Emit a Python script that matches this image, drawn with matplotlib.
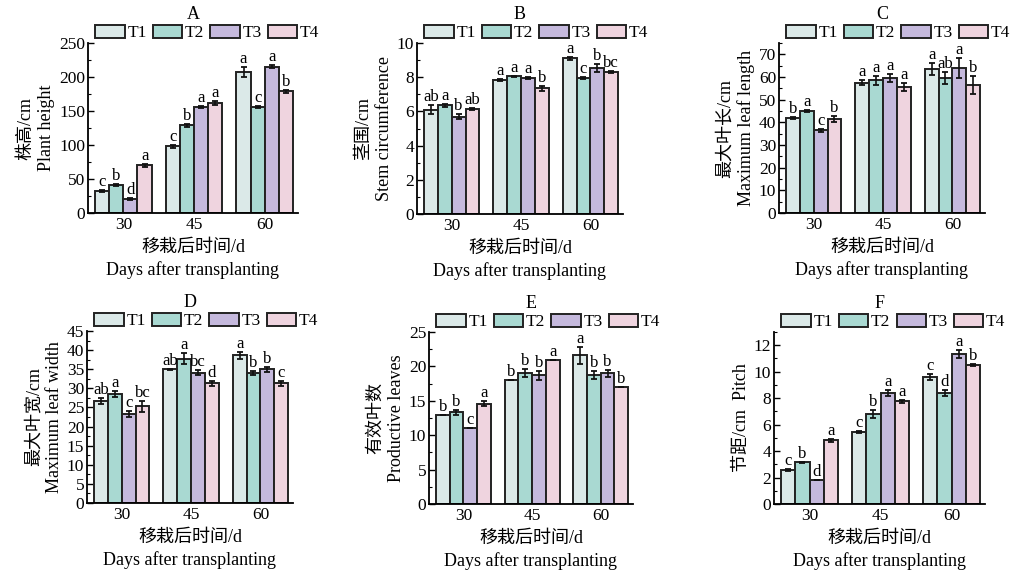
import matplotlib
matplotlib.use("Agg")
import matplotlib.pyplot as plt
import numpy as np
from matplotlib.ticker import MultipleLocator

plt.rcParams['font.family'] = ['Liberation Serif', 'Noto Sans CJK SC']
plt.rcParams['axes.unicode_minus'] = False

days = ['30', '45', '60']
treatments = ['T1', 'T2', 'T3', 'T4']
colors = ['#dbe9e8', '#a9d9d2', '#c5b9dd', '#efd4df']

# Panel A: plant height
A_vals = [[33, 98, 207], [41, 129, 156], [20, 156, 215], [70, 162, 179]]
A_err = [[1.5, 2, 7], [2, 2, 2], [1.5, 2, 2], [2, 3, 2]]
A_let = [['c', 'c', 'a'], ['b', 'b', 'c'], ['d', 'a', 'a'], ['a', 'a', 'b']]

# Panel B: stem circumference
B_vals = [[6.1, 7.85, 9.1], [6.35, 8.05, 7.95], [5.7, 7.95, 8.55], [6.15, 7.35, 8.3]]
B_err = [[0.25, 0.05, 0.08], [0.07, 0.02, 0.08], [0.15, 0.08, 0.25], [0.07, 0.15, 0.05]]
B_let = [['ab', 'a', 'a'], ['a', 'a', 'c'], ['b', 'a', 'b'], ['ab', 'b', 'bc']]

# Panel C: maximum leaf length
C_vals = [[42, 57.5, 63.5], [45, 58.5, 59.5], [36.5, 59.5, 64], [41.5, 55.5, 56.5]]
C_err = [[0.5, 1.2, 2.5], [0.5, 2, 2.5], [0.7, 1.8, 4.5], [1.5, 1.8, 4]]
C_let = [['b', 'a', 'a'], ['a', 'a', 'ab'], ['c', 'a', 'a'], ['b', 'a', 'b']]

# Panel D: maximum leaf width
D_vals = [[26.7, 35, 38.7], [28.6, 37.8, 34], [23.2, 34.1, 35], [25.3, 31.3, 31.3]]
D_err = [[0.9, 0.1, 0.9], [0.8, 1.5, 0.6], [0.8, 0.6, 0.6], [1.4, 0.7, 0.7]]
D_let = [['ab', 'ab', 'a'], ['a', 'a', 'b'], ['c', 'bc', 'b'], ['bc', 'd', 'c']]

# Panel E: productive leaves
E_vals = [[13, 18, 21.6], [13.3, 19, 18.7], [11, 18.7, 19], [14.6, 21, 17]]
E_err = [[0, 0, 1.2], [0.3, 0.6, 0.6], [0, 0.7, 0.5], [0.3, 0, 0]]
E_let = [['b', 'b', 'a'], ['b', 'b', 'b'], ['c', 'b', 'b'], ['a', 'a', 'b']]

# Panel F: pitch
F_vals = [[2.6, 5.45, 9.6], [3.15, 6.8, 8.4], [1.85, 8.4, 11.35], [4.8, 7.75, 10.5]]
F_err = [[0.07, 0.1, 0.2], [0.05, 0.3, 0.25], [0, 0.25, 0.3], [0.15, 0.12, 0.05]]
F_let = [['c', 'c', 'c'], ['b', 'b', 'd'], ['d', 'a', 'a'], ['a', 'a', 'b']]

panels = [
    ('A', A_vals, A_err, A_let, '株高/cm\nPlant height', 250, 50, 25),
    ('B', B_vals, B_err, B_let, '茎围/cm\nStem circumference', 10, 2, 1),
    ('C', C_vals, C_err, C_let, '最大叶长/cm\nMaximum leaf length', 75, 10, 5),
    ('D', D_vals, D_err, D_let, '最大叶宽/cm\nMaximum leaf width', 45, 5, 2.5),
    ('E', E_vals, E_err, E_let, '有效叶数\nProductive leaves', 25, 5, 2.5),
    ('F', F_vals, F_err, F_let, '节距/cm  Pitch', 13, 2, 1),
]

W, H = 1012, 578
boxes = [
    (88, 298, 43, 213),
    (417, 623, 43, 214),
    (779, 985, 43, 213),
    (87, 293, 331, 503),
    (429, 633, 332, 504),
    (774, 985, 332, 504),
]

fig = plt.figure(figsize=(W / 100, H / 100), dpi=100)
x = np.arange(len(days))
bw = 0.2
fs = 12.5

for (title, vals, errs, lets, ylab, ytop, major, minor), (l, r, t, b) in zip(panels, boxes):
    ax = fig.add_axes([l / W, 1 - b / H, (r - l) / W, (b - t) / H])
    for i in range(4):
        pos = x + (i - 1.5) * bw
        ax.bar(pos, vals[i], bw, color=colors[i], edgecolor='#222222', linewidth=1.4,
               label=treatments[i], zorder=2)
        ax.errorbar(pos, vals[i], yerr=errs[i], fmt='none', ecolor='#111111',
                    elinewidth=1.2, capsize=2.5, capthick=1.3, zorder=3)
        for j in range(3):
            ax.text(pos[j], vals[i][j] + errs[i][j], lets[i][j],
                    ha='center', va='bottom', fontsize=12)
    ax.set_xlim(-0.5, 2.47)
    ax.set_ylim(0, ytop)
    ax.set_xticks(x)
    ax.set_xticklabels(days, fontsize=fs)
    ax.yaxis.set_major_locator(MultipleLocator(major))
    ax.yaxis.set_minor_locator(MultipleLocator(minor))
    ax.tick_params(axis='y', which='major', direction='in', length=4, width=1, labelsize=fs, pad=2)
    ax.tick_params(axis='y', which='minor', direction='in', length=2, width=0.8)
    ax.tick_params(axis='x', length=0, pad=3)
    for s in ['top', 'right']:
        ax.spines[s].set_visible(False)
    for s in ['left', 'bottom']:
        ax.spines[s].set_linewidth(1.3)
    ax.set_ylabel(ylab, fontsize=13, linespacing=1.25, labelpad=3)
    ax.set_xlabel('移栽后时间/d\nDays after transplanting', fontsize=13, linespacing=1.4, labelpad=4)
    ax.set_title(title, fontsize=13, pad=17)
    ax.legend(loc='lower left', bbox_to_anchor=(0.035, 1.01), ncol=4, frameon=False,
              fontsize=fs, handlelength=1.7, handleheight=0.75, handletextpad=0.15,
              columnspacing=0.35, borderaxespad=0, borderpad=0)

fig.savefig('out.png', dpi=100, facecolor='white')
